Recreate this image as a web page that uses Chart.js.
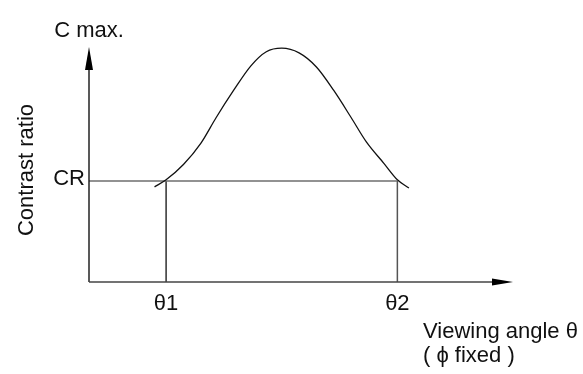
<!DOCTYPE html>
<html>
<head>
<meta charset="utf-8">
<script src="https://cdn.jsdelivr.net/npm/chart.js@4.4.1/dist/chart.umd.min.js"></script>
<style>
    html, body { margin: 0; padding: 0; background: #fff; }
    canvas { display: block; }
</style>
</head>
<body>
<canvas id="myChart" width="583" height="374"></canvas>
<script>
// contrast ratio vs viewing angle (arbitrary units)
const angles = [17, 20, 24.5, 29, 33, 37.5, 42, 46, 50, 54.5, 59, 63.5, 68, 72, 76.5, 80, 83];
const contrast = [40.5, 43.5, 50, 59, 70, 81.5, 92, 98, 99.5, 97.5, 91.5, 81.5, 70, 59.5, 50.5, 43.5, 40];

const crLevel = 43;
const xTickValues = [20, 80];
const xTickLabels = ['θ1', 'θ2'];
const yTickValues = [43];
const yTickLabels = ['CR'];
const xMax = 110;
const yMax = 100;

const FONT = '22px "Liberation Sans", Arial, sans-serif';

function toPoints(xs, ys) {
    return xs.map(function (x, i) { return { x: x, y: ys[i] }; });
}

const lineStyle = {
    showLine: true,
    pointRadius: 0,
    fill: false,
    clip: false
};

const chartData = {
    datasets: [
        Object.assign({
            label: 'curve',
            data: toPoints(angles, contrast),
            borderColor: '#111',
            borderWidth: 1.3,
            cubicInterpolationMode: 'monotone'
        }, lineStyle),
        Object.assign({
            label: 'CR level',
            data: [{ x: 0, y: crLevel }, { x: xTickValues[1], y: crLevel }],
            borderColor: '#6e6e6e',
            borderWidth: 1.6
        }, lineStyle),
        Object.assign({
            label: 'theta1',
            data: [{ x: xTickValues[0], y: crLevel }, { x: xTickValues[0], y: 0 }],
            borderColor: '#111',
            borderWidth: 1.3
        }, lineStyle),
        Object.assign({
            label: 'theta2',
            data: [{ x: xTickValues[1], y: crLevel }, { x: xTickValues[1], y: 0 }],
            borderColor: '#555',
            borderWidth: 1.5
        }, lineStyle)
    ]
};

// axes with arrowheads plus the text labels
const axisDecor = {
    id: 'axisDecor',
    afterDatasetsDraw: function (chart) {
        const ctx = chart.ctx;
        const xs = chart.scales.x;
        const ys = chart.scales.y;
        const x0 = xs.getPixelForValue(0);
        const y0 = ys.getPixelForValue(0);
        const xEnd = xs.getPixelForValue(xMax);
        const yEnd = ys.getPixelForValue(yMax);

        ctx.save();
        ctx.lineWidth = 1.5;
        ctx.strokeStyle = '#222';
        ctx.beginPath();
        ctx.moveTo(x0, yEnd + 10);
        ctx.lineTo(x0, y0);
        ctx.stroke();
        ctx.strokeStyle = '#444';
        ctx.beginPath();
        ctx.moveTo(x0, y0);
        ctx.lineTo(xEnd - 10, y0);
        ctx.stroke();

        ctx.fillStyle = '#000';
        // up arrow
        ctx.beginPath();
        ctx.moveTo(x0, yEnd);
        ctx.lineTo(x0 + 4, yEnd + 23);
        ctx.lineTo(x0 - 4, yEnd + 23);
        ctx.closePath();
        ctx.fill();
        // right arrow
        ctx.beginPath();
        ctx.moveTo(xEnd, y0);
        ctx.lineTo(xEnd - 21, y0 - 3.6);
        ctx.lineTo(xEnd - 21, y0 + 3.6);
        ctx.closePath();
        ctx.fill();

        ctx.font = FONT;
        ctx.fillStyle = '#111';
        ctx.textBaseline = 'alphabetic';

        ctx.textAlign = 'center';
        ctx.fillText('C max.', x0, yEnd - 10);

        xTickValues.forEach(function (v, i) {
            ctx.fillText(xTickLabels[i], xs.getPixelForValue(v), y0 + 28);
        });

        ctx.textAlign = 'right';
        yTickValues.forEach(function (v, i) {
            ctx.fillText(yTickLabels[i], x0 - 4, ys.getPixelForValue(v) + 4);
        });

        ctx.textAlign = 'left';
        ctx.fillText('Viewing angle θ', 423, 338);
        ctx.fillText('( ϕ fixed )', 423, 362);

        ctx.save();
        ctx.translate(33, 170);
        ctx.rotate(-Math.PI / 2);
        ctx.textAlign = 'center';
        ctx.fillText('Contrast ratio', 0, 0);
        ctx.restore();

        ctx.restore();
    }
};

const chartConfig = {
    type: 'scatter',
    data: chartData,
    options: {
        responsive: false,
        animation: false,
        layout: {
            padding: { left: 89, right: 70, top: 47, bottom: 92 }
        },
        scales: {
            x: { type: 'linear', min: 0, max: xMax, display: false },
            y: { type: 'linear', min: 0, max: yMax, display: false }
        },
        plugins: {
            legend: { display: false },
            tooltip: { enabled: false }
        }
    },
    plugins: [axisDecor]
};

const ctx = document.getElementById('myChart').getContext('2d');
const myChart = new Chart(ctx, chartConfig);
</script>
</body>
</html>
